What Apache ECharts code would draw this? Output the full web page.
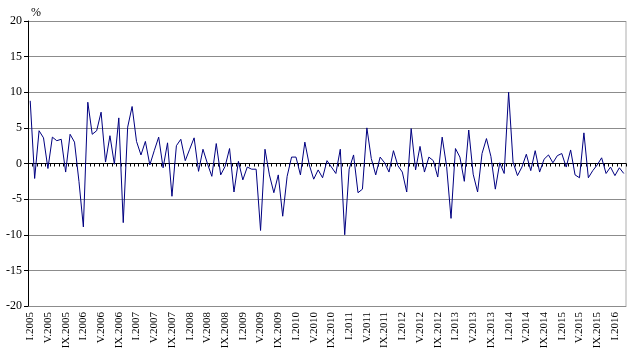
<!DOCTYPE html>
<html><head><meta charset="utf-8">
<script src="https://cdn.jsdelivr.net/npm/echarts@6/dist/echarts.min.js"></script>
<style>html,body{margin:0;padding:0;background:#fff}#c{width:635px;height:359px}</style>
</head><body><div id="c"></div>
<script>
const romanMonths = ["I","II","III","IV","V","VI","VII","VIII","IX","X","XI","XII"];
const years = [2005,2006,2007,2008,2009,2010,2011,2012,2013,2014,2015,2016];
const monthsInLastYear = 3;
const categories = [];
years.forEach((y, i) => {
  const n = (i === years.length - 1) ? monthsInLastYear : 12;
  for (let m = 0; m < n; m++) categories.push(romanMonths[m] + "." + y);
});
const values = [
  8.8,-2.1,4.6,3.6,-0.7,3.7,3.2,3.4,-1.2,4.1,3.0,-2.5,
  -8.9,8.6,4.1,4.6,7.2,0.2,3.9,-0.1,6.4,-8.3,5.1,8.0,
  3.1,1.2,3.1,-0.2,1.8,3.7,-0.6,2.9,-4.6,2.5,3.4,0.4,
  2.0,3.6,-1.1,2.0,0.0,-1.8,2.8,-1.6,-0.4,2.1,-4.0,0.3,
  -2.3,-0.5,-0.8,-0.8,-9.4,2.0,-1.6,-4.1,-1.6,-7.4,-1.8,0.9,
  0.9,-1.6,3.0,-0.2,-2.2,-0.9,-2.0,0.4,-0.5,-1.4,2.0,-10.0,
  -0.8,1.2,-4.1,-3.6,5.0,0.7,-1.6,0.9,0.1,-1.2,1.8,-0.3,
  -1.2,-4.0,4.9,-0.9,2.4,-1.2,0.9,0.4,-1.9,3.7,-0.4,-7.7,
  2.1,0.9,-2.5,4.7,-1.5,-4.0,1.4,3.5,1.0,-3.6,0.1,-1.4,
  10.0,0.2,-1.7,-0.5,1.3,-1.0,1.8,-1.2,0.6,1.2,0.1,1.1,
  1.4,-0.5,1.9,-1.6,-2.0,4.3,-2.0,-1.0,-0.2,0.8,-1.4,-0.5,
  -1.7,-0.6,-1.4
];
const yTicks = {min: -20, max: 20, step: 5};
const unitLabel = "%";

const chart = echarts.init(document.getElementById('c'), null, {renderer: 'canvas'});
const serif = "'Liberation Serif','Times New Roman',serif";
chart.setOption({
  animation: false,
  backgroundColor: '#fff',
  title: {text: unitLabel, left: 26, top: 2, textStyle: {fontFamily: serif, fontSize: 12, fontWeight: 'normal', color: '#000'}},
  grid: {left: 28, right: 9, top: 21, bottom: 53, show: true, borderColor: '#d0d0d0', borderWidth: 0},
  xAxis: [{
    type: 'category', data: categories, boundaryGap: true,
    axisLine: {onZero: true, lineStyle: {color: '#000', width: 1}},
    axisTick: {show: true, interval: 0, length: 3, inside: false, lineStyle: {color: '#000'}},
    axisLabel: {show: false}, splitLine: {show: false}
  }, {
    type: 'category', data: categories, boundaryGap: true, position: 'bottom', offset: 0,
    axisLine: {show: false}, axisTick: {show: false},
    axisLabel: {show: true, interval: 3, rotate: 90, margin: 6, fontFamily: serif, fontSize: 11, color: '#000'},
    splitLine: {show: false}
  }],
  yAxis: {
    type: 'value', min: yTicks.min, max: yTicks.max, interval: yTicks.step,
    axisLine: {show: true, onZero: false, lineStyle: {color: '#000'}},
    axisTick: {show: true, length: 4, lineStyle: {color: '#000'}},
    axisLabel: {fontFamily: serif, fontSize: 12, color: '#000', margin: 6},
    splitLine: {show: true, lineStyle: {color: '#8c8c8c', width: 1}}
  },
  series: [{
    type: 'line', data: values, xAxisIndex: 0, symbol: 'none',
    lineStyle: {color: '#000080', width: 1}
  }],
  graphic: [{
    type: 'rect', shape: {x: 625, y: 21, width: 2, height: 286}, style: {fill: '#d6d6d6'}, z: -1
  }]
});
</script></body></html>
